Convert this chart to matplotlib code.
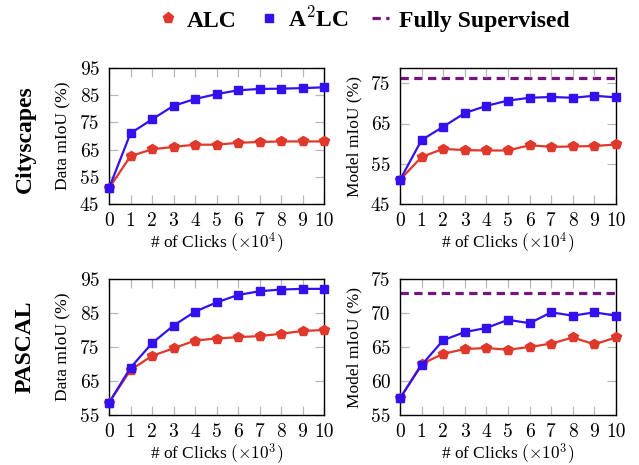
import numpy as np
import matplotlib
matplotlib.use("Agg")
import matplotlib.pyplot as plt
from matplotlib.lines import Line2D

plt.rcParams['font.family'] = ['Liberation Serif', 'DejaVu Serif']
plt.rcParams['mathtext.fontset'] = 'cm'

clicks = np.arange(0, 11)

# Cityscapes
city_data_alc = [50.8, 62.6, 65.1, 66.0, 66.8, 66.8, 67.5, 67.8, 68.0, 68.0, 68.0]
city_data_a2lc = [50.8, 71.0, 76.1, 81.1, 83.6, 85.4, 86.8, 87.3, 87.4, 87.6, 87.9]
city_model_alc = [51.0, 56.7, 58.7, 58.4, 58.3, 58.3, 59.6, 59.2, 59.3, 59.4, 59.8]
city_model_a2lc = [51.0, 60.9, 64.2, 67.6, 69.4, 70.7, 71.4, 71.6, 71.4, 71.9, 71.5]
city_full = 76.2

# PASCAL
pascal_data_alc = [58.6, 68.2, 72.4, 74.6, 76.9, 77.5, 77.9, 78.2, 78.9, 79.7, 80.0]
pascal_data_a2lc = [58.6, 68.9, 76.1, 81.3, 85.4, 88.1, 90.3, 91.4, 91.9, 92.1, 92.1]
pascal_model_alc = [57.45, 62.5, 64.0, 64.7, 64.85, 64.6, 65.0, 65.5, 66.4, 65.4, 66.4]
pascal_model_a2lc = [57.45, 62.35, 66.0, 67.2, 67.8, 69.0, 68.5, 70.1, 69.6, 70.1, 69.6]
pascal_full = 73.0

red = '#e0382a'
blue = '#3311ee'
purple = '#77157f'

fig = plt.figure(figsize=(6.39, 4.65), dpi=100)

W, H = 639.0, 465.0
def make_ax(x0, x1, y0, y1):
    return fig.add_axes([x0 / W, 1 - y1 / H, (x1 - x0) / W, (y1 - y0) / H])

axes = [make_ax(109, 324, 68, 204), make_ax(400, 616, 68, 204),
        make_ax(109, 324, 279, 415), make_ax(400, 616, 279, 415)]

panels = [
    (city_data_alc, city_data_a2lc, None, (45, 95), [45, 55, 65, 75, 85, 95], 'Data mIoU (%)', 4),
    (city_model_alc, city_model_a2lc, city_full, (45, 78.8), [45, 55, 65, 75], 'Model mIoU (%)', 4),
    (pascal_data_alc, pascal_data_a2lc, None, (55, 95), [55, 65, 75, 85, 95], 'Data mIoU (%)', 3),
    (pascal_model_alc, pascal_model_a2lc, pascal_full, (55, 75), [55, 60, 65, 70, 75], 'Model mIoU (%)', 3),
]

for ax, (alc, a2lc, full, ylim, yticks, ylabel, exp) in zip(axes, panels):
    if full is not None:
        ax.axhline(full, color=purple, lw=2.3, dashes=[2.6, 1.7], zorder=1)
    ax.plot(clicks, alc, color=red, lw=1.6, marker='p', ms=7, zorder=3, clip_on=False)
    ax.plot(clicks, a2lc, color=blue, lw=1.6, marker='s', ms=6, zorder=4, clip_on=False)
    ax.set_xlim(0, 10)
    ax.set_ylim(*ylim)
    ax.set_xticks(clicks)
    ax.set_yticks(yticks)
    ax.tick_params(direction='in', length=6.5, width=0.9, color='#b8b8b8',
                   top=True, right=True, labelsize=14)
    ax.tick_params(axis='x', pad=6)
    ax.tick_params(axis='y', pad=7)
    for lab in ax.get_xticklabels() + ax.get_yticklabels():
        lab.set_fontfamily('cmr10')
    for sp in ax.spines.values():
        sp.set_linewidth(1.0)
    ax.set_ylabel(ylabel, fontsize=12.5)
    ax.yaxis.set_label_coords(-0.175, 0.5)
    ax.set_xlabel('# of Clicks $(\\times10^%d)$' % exp, fontsize=12.5)
    ax.xaxis.set_label_coords(0.5, -0.19)

fig.text(0.039, 0.701, 'Cityscapes', rotation=90, fontsize=17, fontweight='bold',
         ha='center', va='center')
fig.text(0.039, 0.254, 'PASCAL', rotation=90, fontsize=17, fontweight='bold',
         ha='center', va='center')

handles = [
    Line2D([], [], color=red, marker='p', ms=8, ls='none'),
    Line2D([], [], color=blue, marker='s', ms=6, ls='none'),
    Line2D([], [], color=purple, lw=2.3, dashes=[2.6, 1.7]),
]
fig.legend(handles, ['ALC', 'A$^2$LC', 'Fully Supervised'], loc='center',
           bbox_to_anchor=(0.571, 0.959), ncol=3, frameon=False,
           prop={'weight': 'bold', 'size': 17}, handlelength=0.7,
           handletextpad=0.45, columnspacing=1.0)

fig.savefig('out.png', dpi=100)
